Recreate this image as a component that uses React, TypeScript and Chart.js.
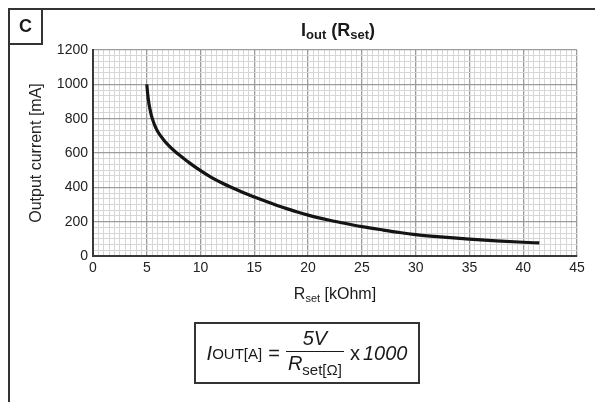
import React, { useEffect, useRef } from "react";
import { Chart, registerables } from "chart.js";

Chart.register(...registerables);

// ---- data ----
const rsetKOhm = [5, 5.1, 5.2, 5.35, 5.5, 5.75, 6, 6.5, 7, 7.5, 8, 9, 10, 11, 12, 13, 14, 15, 16, 17, 18, 19, 20, 22, 23, 25, 27, 28.5, 30, 32, 35, 37.5, 40, 41.5];
const outputCurrentMA = [1000, 935, 888, 840, 803, 760, 727, 682, 646, 616, 590, 541, 497, 458, 425, 396, 369, 344, 320, 297, 276, 256, 238, 208, 195, 171, 151, 137, 125, 113, 98, 88, 80, 76];

const xTickLabels = [0, 5, 10, 15, 20, 25, 30, 35, 40, 45];
const yTickLabels = [0, 200, 400, 600, 800, 1000, 1200];
const xMinorPerMajor = 10;
const yMinorPerMajor = 6;

const FONT = "'Liberation Sans', Arial, Helvetica, sans-serif";

function buildMinor(labels: number[], per: number): number[] {
  const out: number[] = [];
  for (let i = 0; i < labels.length - 1; i++) {
    const a = labels[i];
    const b = labels[i + 1];
    for (let k = 0; k < per; k++) out.push(a + ((b - a) * k) / per);
  }
  out.push(labels[labels.length - 1]);
  return out;
}

function isMajor(v: number, labels: number[]): boolean {
  return labels.some((l) => Math.abs(l - v) < 1e-6);
}

export default function App() {
  const canvasRef = useRef<HTMLCanvasElement | null>(null);

  useEffect(() => {
    if (!canvasRef.current) return;
    const xTicks = buildMinor(xTickLabels, xMinorPerMajor);
    const yTicks = buildMinor(yTickLabels, yMinorPerMajor);
    const chart = new Chart(canvasRef.current, {
      type: "line",
      data: {
        datasets: [
          {
            data: rsetKOhm.map((x, i) => ({ x, y: outputCurrentMA[i] })),
            borderColor: "#141414",
            borderWidth: 3.2,
            pointRadius: 0,
            fill: false,
            cubicInterpolationMode: "monotone",
          },
        ],
      },
      options: {
        animation: false,
        responsive: true,
        maintainAspectRatio: false,
        layout: { padding: { left: 18, top: 42, right: 26, bottom: 116 } },
        plugins: { legend: { display: false }, tooltip: { enabled: false }, title: { display: false } },
        scales: {
          x: {
            type: "linear",
            min: 0,
            max: 45,
            afterBuildTicks: (axis: any) => {
              axis.ticks = xTicks.map((v) => ({ value: v }));
            },
            afterFit: (scale: any) => {
              scale.height = 30;
            },
            ticks: {
              autoSkip: false,
              maxRotation: 0,
              minRotation: 0,
              padding: 4,
              color: "#222",
              font: { family: FONT, size: 14 },
              callback: (v: any) => (isMajor(Number(v), xTickLabels) ? String(v) : ""),
            },
            grid: {
              drawTicks: false,
              color: (ctx: any) => (ctx.tick && isMajor(ctx.tick.value, xTickLabels) ? "#9c9c9c" : "#d6d6d6"),
              lineWidth: (ctx: any) => (ctx.tick && isMajor(ctx.tick.value, xTickLabels) ? 1.3 : 1),
            },
            border: { display: true, color: "#3a3a3a", width: 2 },
          },
          y: {
            type: "linear",
            min: 0,
            max: 1200,
            afterBuildTicks: (axis: any) => {
              axis.ticks = yTicks.map((v) => ({ value: v }));
            },
            afterFit: (scale: any) => {
              scale.width = 67;
            },
            ticks: {
              autoSkip: false,
              padding: 5,
              color: "#222",
              font: { family: FONT, size: 14 },
              callback: (v: any) => {
                const n = Number(v);
                return isMajor(n, yTickLabels) ? String(Math.round(n)) : "";
              },
            },
            grid: {
              drawTicks: false,
              color: (ctx: any) => (ctx.tick && isMajor(ctx.tick.value, yTickLabels) ? "#9c9c9c" : "#d6d6d6"),
              lineWidth: (ctx: any) => (ctx.tick && isMajor(ctx.tick.value, yTickLabels) ? 1.3 : 1),
            },
            border: { display: true, color: "#3a3a3a", width: 2 },
            title: {
              display: true,
              text: "Output current [mA]",
              color: "#222",
              font: { family: FONT, size: 16 },
              padding: { top: 1, bottom: 0 },
            },
          },
        },
      },
    });
    return () => chart.destroy();
  }, []);

  const text: React.CSSProperties = { position: "absolute", fontFamily: FONT, color: "#1a1a1a", whiteSpace: "nowrap" };

  return (
    <div style={{ position: "relative", width: 595, height: 394, fontFamily: FONT }}>
      <div style={{ position: "absolute", left: 0, top: 0, width: 595, height: 394 }}>
        <canvas ref={canvasRef} />
      </div>
      {/* frame */}
      <div style={{ position: "absolute", left: 0, top: 0, width: 595, height: 2, background: "#333" }} />
      <div style={{ position: "absolute", left: 0, top: 0, width: 2, height: 394, background: "#333" }} />
      {/* C box */}
      <div
        style={{
          position: "absolute",
          left: 0,
          top: 0,
          width: 35,
          height: 37,
          border: "2px solid #333",
          boxSizing: "border-box",
          display: "flex",
          alignItems: "center",
          justifyContent: "center",
          fontWeight: "bold",
          fontSize: 18,
          color: "#1a1a1a",
        }}
      >
        C
      </div>
      {/* title */}
      <div style={{ ...text, left: 330, top: 23, transform: "translate(-50%, -50%)", fontWeight: "bold", fontSize: 18 }}>
        I<sub style={{ fontSize: 13, verticalAlign: "-3px" }}>out</sub> (R<sub style={{ fontSize: 13, verticalAlign: "-3px" }}>set</sub>)
      </div>
      {/* x axis title */}
      <div style={{ ...text, left: 327, top: 286, transform: "translate(-50%, -50%)", fontSize: 16 }}>
        R<sub style={{ fontSize: 11, verticalAlign: "-3px" }}>set</sub> [kOhm]
      </div>
      {/* formula box */}
      <div
        style={{
          position: "absolute",
          left: 186,
          top: 314,
          width: 226,
          height: 62,
          border: "2px solid #333",
          boxSizing: "border-box",
          display: "flex",
          alignItems: "center",
          justifyContent: "center",
          fontSize: 20,
          color: "#1a1a1a",
        }}
      >
        <span style={{ fontStyle: "italic" }}>I</span>
        <sub style={{ fontSize: 15, verticalAlign: "-5px" }}>OUT[A]</sub>
        <span style={{ margin: "0 6px" }}>=</span>
        <span style={{ display: "inline-flex", flexDirection: "column", alignItems: "center", lineHeight: 1.05 }}>
          <span style={{ fontStyle: "italic", paddingBottom: 2 }}>5V</span>
          <span style={{ borderTop: "1.5px solid #1a1a1a", paddingTop: 1, paddingLeft: 2, paddingRight: 2 }}>
            <span style={{ fontStyle: "italic" }}>R</span>
            <sub style={{ fontSize: 15, verticalAlign: "-5px" }}>set[Ω]</sub>
          </span>
        </span>
        <span style={{ marginLeft: 6 }}>x</span>
        <span style={{ fontStyle: "italic", marginLeft: 3 }}>1000</span>
      </div>
    </div>
  );
}
